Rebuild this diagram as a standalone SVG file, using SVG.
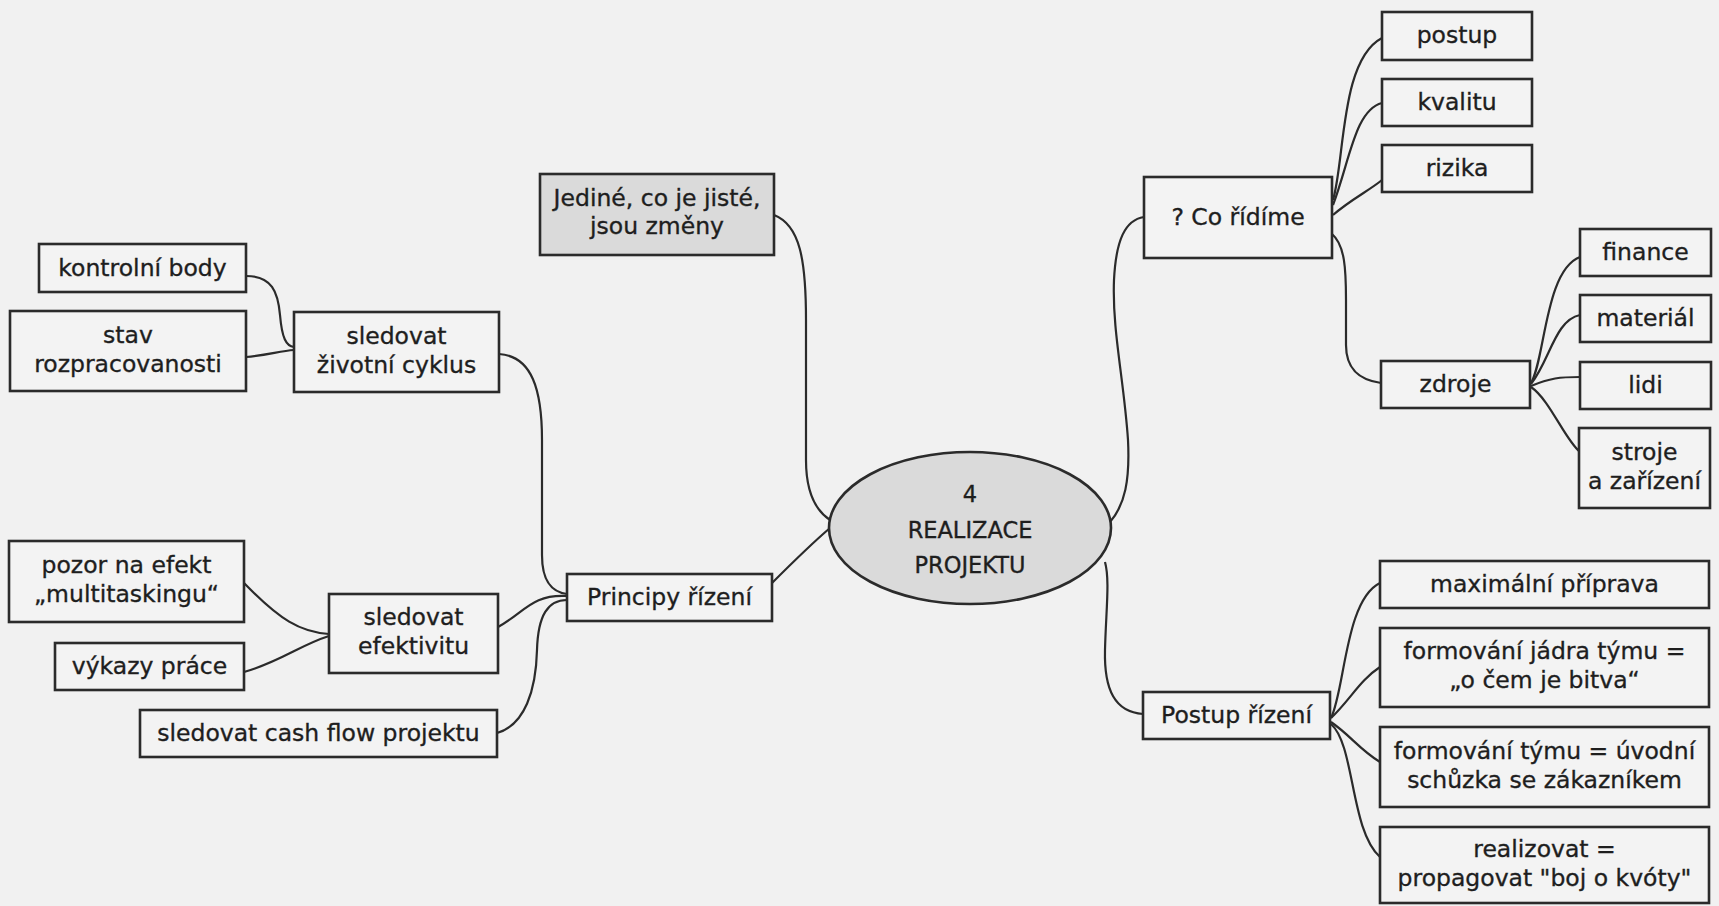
<svg xmlns="http://www.w3.org/2000/svg" width="1719" height="906" viewBox="0 0 1719 906">
<style>
.bg{fill:#f1f1f1}
.box{fill:#f3f3f3;stroke:#2b2b2b;stroke-width:2.6}
.gray{fill:#dadada;stroke:#2b2b2b;stroke-width:2.6}
.t{font-family:"DejaVu Sans",sans-serif;font-size:23.5px;fill:#1e1e1e;stroke:#1e1e1e;stroke-width:0.35;text-anchor:middle}
.e{font-size:22.5px}
.c{fill:none;stroke:#2b2b2b;stroke-width:2.2}
</style>
<rect class="bg" x="0" y="0" width="1719" height="906"/>
<g id="connectors">
<path class="c" d="M246,276 C272,276 278,292 280,315 C282,338 286,346 294,347"/>
<path class="c" d="M246,357 C268,355 280,351 294,350"/>
<path class="c" d="M499,354 C532,356 542,390 542,440 L542,555 C542,582 552,592 567,594"/>
<path class="c" d="M498,627 C525,612 532,594 567,596"/>
<path class="c" d="M497,733 C525,725 536,690 537,650 C538,615 548,600 567,600"/>
<path class="c" d="M244,583 C280,620 300,632 329,634"/>
<path class="c" d="M244,672 C280,662 300,645 329,636"/>
<path class="c" d="M772,583 C790,565 810,545 830,528"/>
<path class="c" d="M774,215 C800,225 806,260 806,320 L806,460 C806,490 815,510 830,520"/>
<path class="c" d="M1110,522 C1125,505 1130,480 1128,440 C1124,380 1112,330 1114,280 C1116,240 1125,220 1144,217"/>
<path class="c" d="M1105,562 C1110,580 1106,610 1105,650 C1104,690 1115,712 1143,714"/>
<path class="c" d="M1333,200 C1345,160 1340,60 1382,38"/>
<path class="c" d="M1333,205 C1350,160 1355,110 1382,103"/>
<path class="c" d="M1333,215 C1350,200 1370,190 1382,180"/>
<path class="c" d="M1332,234 C1345,245 1346,270 1346,300 L1346,345 C1346,370 1360,380 1381,383"/>
<path class="c" d="M1531,383 C1545,360 1545,270 1580,257"/>
<path class="c" d="M1531,384 C1550,360 1555,320 1580,315"/>
<path class="c" d="M1531,386 C1550,378 1560,377 1580,377"/>
<path class="c" d="M1531,387 C1550,400 1565,440 1580,452"/>
<path class="c" d="M1331,718 C1345,690 1345,600 1380,583"/>
<path class="c" d="M1331,718 C1350,700 1360,680 1380,667"/>
<path class="c" d="M1331,722 C1350,735 1360,750 1380,762"/>
<path class="c" d="M1331,724 C1355,745 1350,830 1380,857"/>
</g>
<g id="center"><ellipse class="gray" cx="970" cy="528" rx="141" ry="76"/><text class="t e" x="970" y="502">4</text><text class="t e" x="970" y="538">REALIZACE</text><text class="t e" x="970" y="573">PROJEKTU</text></g>
<g id="jedine"><rect class="gray" x="540" y="174" width="234" height="81"/><text class="t" x="657" y="206">Jediné, co je jisté,</text><text class="t" x="657" y="234">jsou změny</text></g>
<g id="principy"><rect class="box" x="567" y="574" width="205" height="47"/><text class="t" x="669.5" y="605">Principy řízení</text></g>
<g id="kontrolni"><rect class="box" x="39" y="244" width="207" height="48"/><text class="t" x="142.5" y="276">kontrolní body</text></g>
<g id="stav"><rect class="box" x="10" y="311" width="236" height="80"/><text class="t" x="128" y="343">stav</text><text class="t" x="128" y="372">rozpracovanosti</text></g>
<g id="zivotni"><rect class="box" x="294" y="312" width="205" height="80"/><text class="t" x="396.5" y="344">sledovat</text><text class="t" x="396.5" y="373">životní cyklus</text></g>
<g id="pozor"><rect class="box" x="9" y="541" width="235" height="81"/><text class="t" x="126.5" y="573">pozor na efekt</text><text class="t" x="126.5" y="602">„multitaskingu“</text></g>
<g id="vykazy"><rect class="box" x="55" y="643" width="189" height="47"/><text class="t" x="149.5" y="674">výkazy práce</text></g>
<g id="efektivitu"><rect class="box" x="329" y="594" width="169" height="79"/><text class="t" x="413.5" y="625">sledovat</text><text class="t" x="413.5" y="654">efektivitu</text></g>
<g id="cashflow"><rect class="box" x="140" y="710" width="357" height="47"/><text class="t" x="318.5" y="741">sledovat cash flow projektu</text></g>
<g id="coridime"><rect class="box" x="1144" y="177" width="188" height="81"/><text class="t" x="1238" y="225">? Co řídíme</text></g>
<g id="postup"><rect class="box" x="1382" y="12" width="150" height="48"/><text class="t" x="1457" y="43">postup</text></g>
<g id="kvalitu"><rect class="box" x="1382" y="79" width="150" height="47"/><text class="t" x="1457" y="110">kvalitu</text></g>
<g id="rizika"><rect class="box" x="1382" y="145" width="150" height="47"/><text class="t" x="1457" y="176">rizika</text></g>
<g id="zdroje"><rect class="box" x="1381" y="361" width="149" height="47"/><text class="t" x="1455.5" y="392">zdroje</text></g>
<g id="finance"><rect class="box" x="1580" y="229" width="131" height="47"/><text class="t" x="1645.5" y="260">finance</text></g>
<g id="material"><rect class="box" x="1580" y="295" width="131" height="47"/><text class="t" x="1645.5" y="326">materiál</text></g>
<g id="lidi"><rect class="box" x="1580" y="362" width="131" height="47"/><text class="t" x="1645.5" y="393">lidi</text></g>
<g id="stroje"><rect class="box" x="1579" y="428" width="131" height="80"/><text class="t" x="1644.5" y="460">stroje</text><text class="t" x="1644.5" y="489">a zařízení</text></g>
<g id="postupRizeni"><rect class="box" x="1143" y="692" width="187" height="47"/><text class="t" x="1236.5" y="723">Postup řízení</text></g>
<g id="maximalni"><rect class="box" x="1380" y="561" width="329" height="47"/><text class="t" x="1544.5" y="592">maximální příprava</text></g>
<g id="jadra"><rect class="box" x="1380" y="628" width="329" height="79"/><text class="t" x="1544.5" y="659">formování jádra týmu =</text><text class="t" x="1544.5" y="688">„o čem je bitva“</text></g>
<g id="tymu"><rect class="box" x="1380" y="727" width="329" height="80"/><text class="t" x="1544.5" y="759">formování týmu = úvodní</text><text class="t" x="1544.5" y="788">schůzka se zákazníkem</text></g>
<g id="realizovat"><rect class="box" x="1380" y="827" width="329" height="76"/><text class="t" x="1544.5" y="857">realizovat =</text><text class="t" x="1544.5" y="886">propagovat "boj o kvóty"</text></g>
</svg>
